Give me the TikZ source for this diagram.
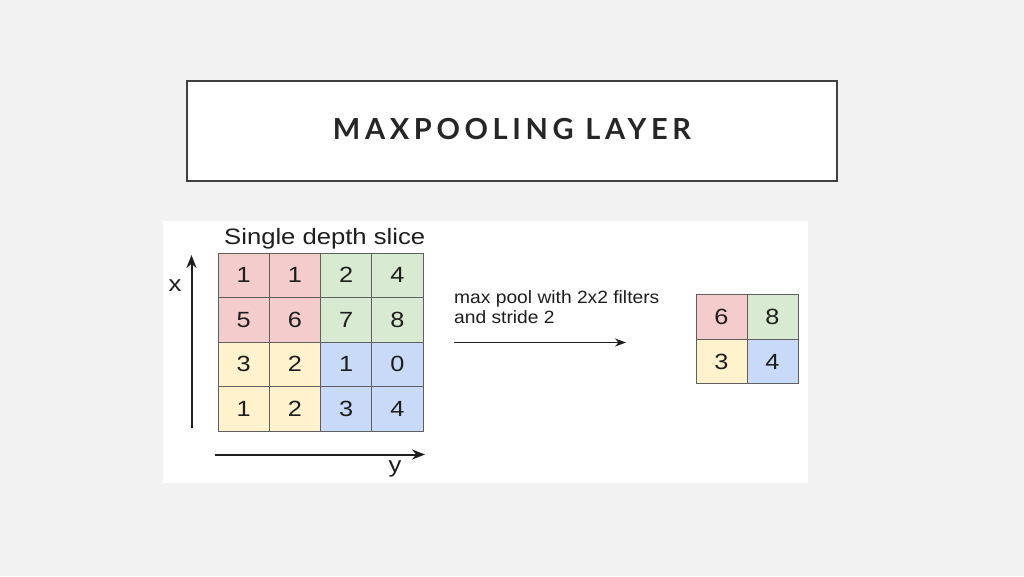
\documentclass[tikz,border=0pt]{standalone}
\usepackage{fontspec}
\usetikzlibrary{arrows.meta}
\newfontfamily\arialx[FakeStretch=1.15]{Liberation Sans}
\newfontfamily\arialy[FakeStretch=1.08]{Liberation Sans}
\newfontfamily\titlefont[LetterSpace=16]{Lato}
\definecolor{bg}{HTML}{F2F2F2}
\definecolor{cred}{HTML}{F4CCCC}
\definecolor{cgreen}{HTML}{D9EAD3}
\definecolor{cyellow}{HTML}{FFF2CC}
\definecolor{cblue}{HTML}{C9DAF8}
\definecolor{gridline}{HTML}{5F5F5F}
\definecolor{titlegray}{HTML}{404040}
\definecolor{titletext}{HTML}{262626}
\definecolor{ink}{HTML}{1E1E1E}
\begin{document}
\begin{tikzpicture}[x=1pt,y=-1pt,
  cell/.style={draw=gridline, line width=0.9pt, minimum width=51.2pt, minimum height=44.5pt, inner sep=0pt, font=\arialx\fontsize{22}{22}\selectfont, text=ink},
  scell/.style={draw=gridline, line width=0.9pt, minimum width=51pt, minimum height=44.5pt, inner sep=0pt, font=\arialx\fontsize{22}{22}\selectfont, text=ink},
  lbl/.style={font=\arialx\fontsize{22.3}{22.3}\selectfont, text=ink, inner sep=0pt},
  axis/.style={line width=2pt, ink, -{Stealth[length=13pt,width=10pt]}}]
\useasboundingbox (0,0) rectangle (1024,576);
\fill[bg] (0,0) rectangle (1024,576);
% title
\node[draw=titlegray, line width=2pt, fill=white, minimum width=650pt, minimum height=100pt, inner sep=0pt] (titlebox) at (512,131) {};
\node[font=\titlefont\bfseries\fontsize{29}{29}\selectfont, text=titletext] (title) at (512,129) {MAXPOOLING LAYER};
% image panel
\node[fill=white, minimum width=645pt, minimum height=262pt, inner sep=0pt] (panel) at (485.5,352) {};
% grid
\def\cw{51.25}
\def\rh{44.5}
\foreach \v [count=\i from 0] in {1,1,2,4,5,6,7,8,3,2,1,0,1,2,3,4}{
  \pgfmathtruncatemacro{\r}{int(\i/4)}
  \pgfmathtruncatemacro{\c}{mod(\i,4)}
  \pgfmathsetmacro{\xx}{218+\cw*\c+\cw/2}
  \pgfmathsetmacro{\yy}{253+\rh*\r+\rh/2}
  \ifnum\r<2 \ifnum\c<2 \def\col{cred}\else\def\col{cgreen}\fi
  \else \ifnum\c<2 \def\col{cyellow}\else\def\col{cblue}\fi\fi
  \node[cell, fill=\col] (g\r\c) at (\xx,\yy) {\v};
}
\node[lbl, anchor=base west] (slice) at (224,244.5) {Single depth slice};
% axes
\coordinate (xa0) at (191.5,428);
\coordinate (xa1) at (191.5,255);
\draw[axis] (xa0) -- (xa1);
\node[lbl] (xl) at (175,286) {x};
\coordinate (ya0) at (215,454.5);
\coordinate (ya1) at (425,454.5);
\draw[axis] (ya0) -- (ya1);
\node[lbl] (yl) at (395,469) {y};
% description
\node[font=\arialy\fontsize{17.8}{20}\selectfont, text=ink, anchor=base west, inner sep=0pt, align=left] (desc) at (454,323.5) {max pool with 2x2 filters\\and stride 2};
\coordinate (pa0) at (454,342.5);
\coordinate (pa1) at (626,342.5);
\draw[axis, line width=1.6pt, -{Stealth[length=11pt,width=8pt]}] (pa0) -- (pa1);
% result grid
\node[scell, fill=cred] (r00) at (721.5,317) {6};
\node[scell, fill=cgreen] (r01) at (772.5,317) {8};
\node[scell, fill=cyellow] (r10) at (721.5,361.5) {3};
\node[scell, fill=cblue] (r11) at (772.5,361.5) {4};
\end{tikzpicture}
\end{document}
